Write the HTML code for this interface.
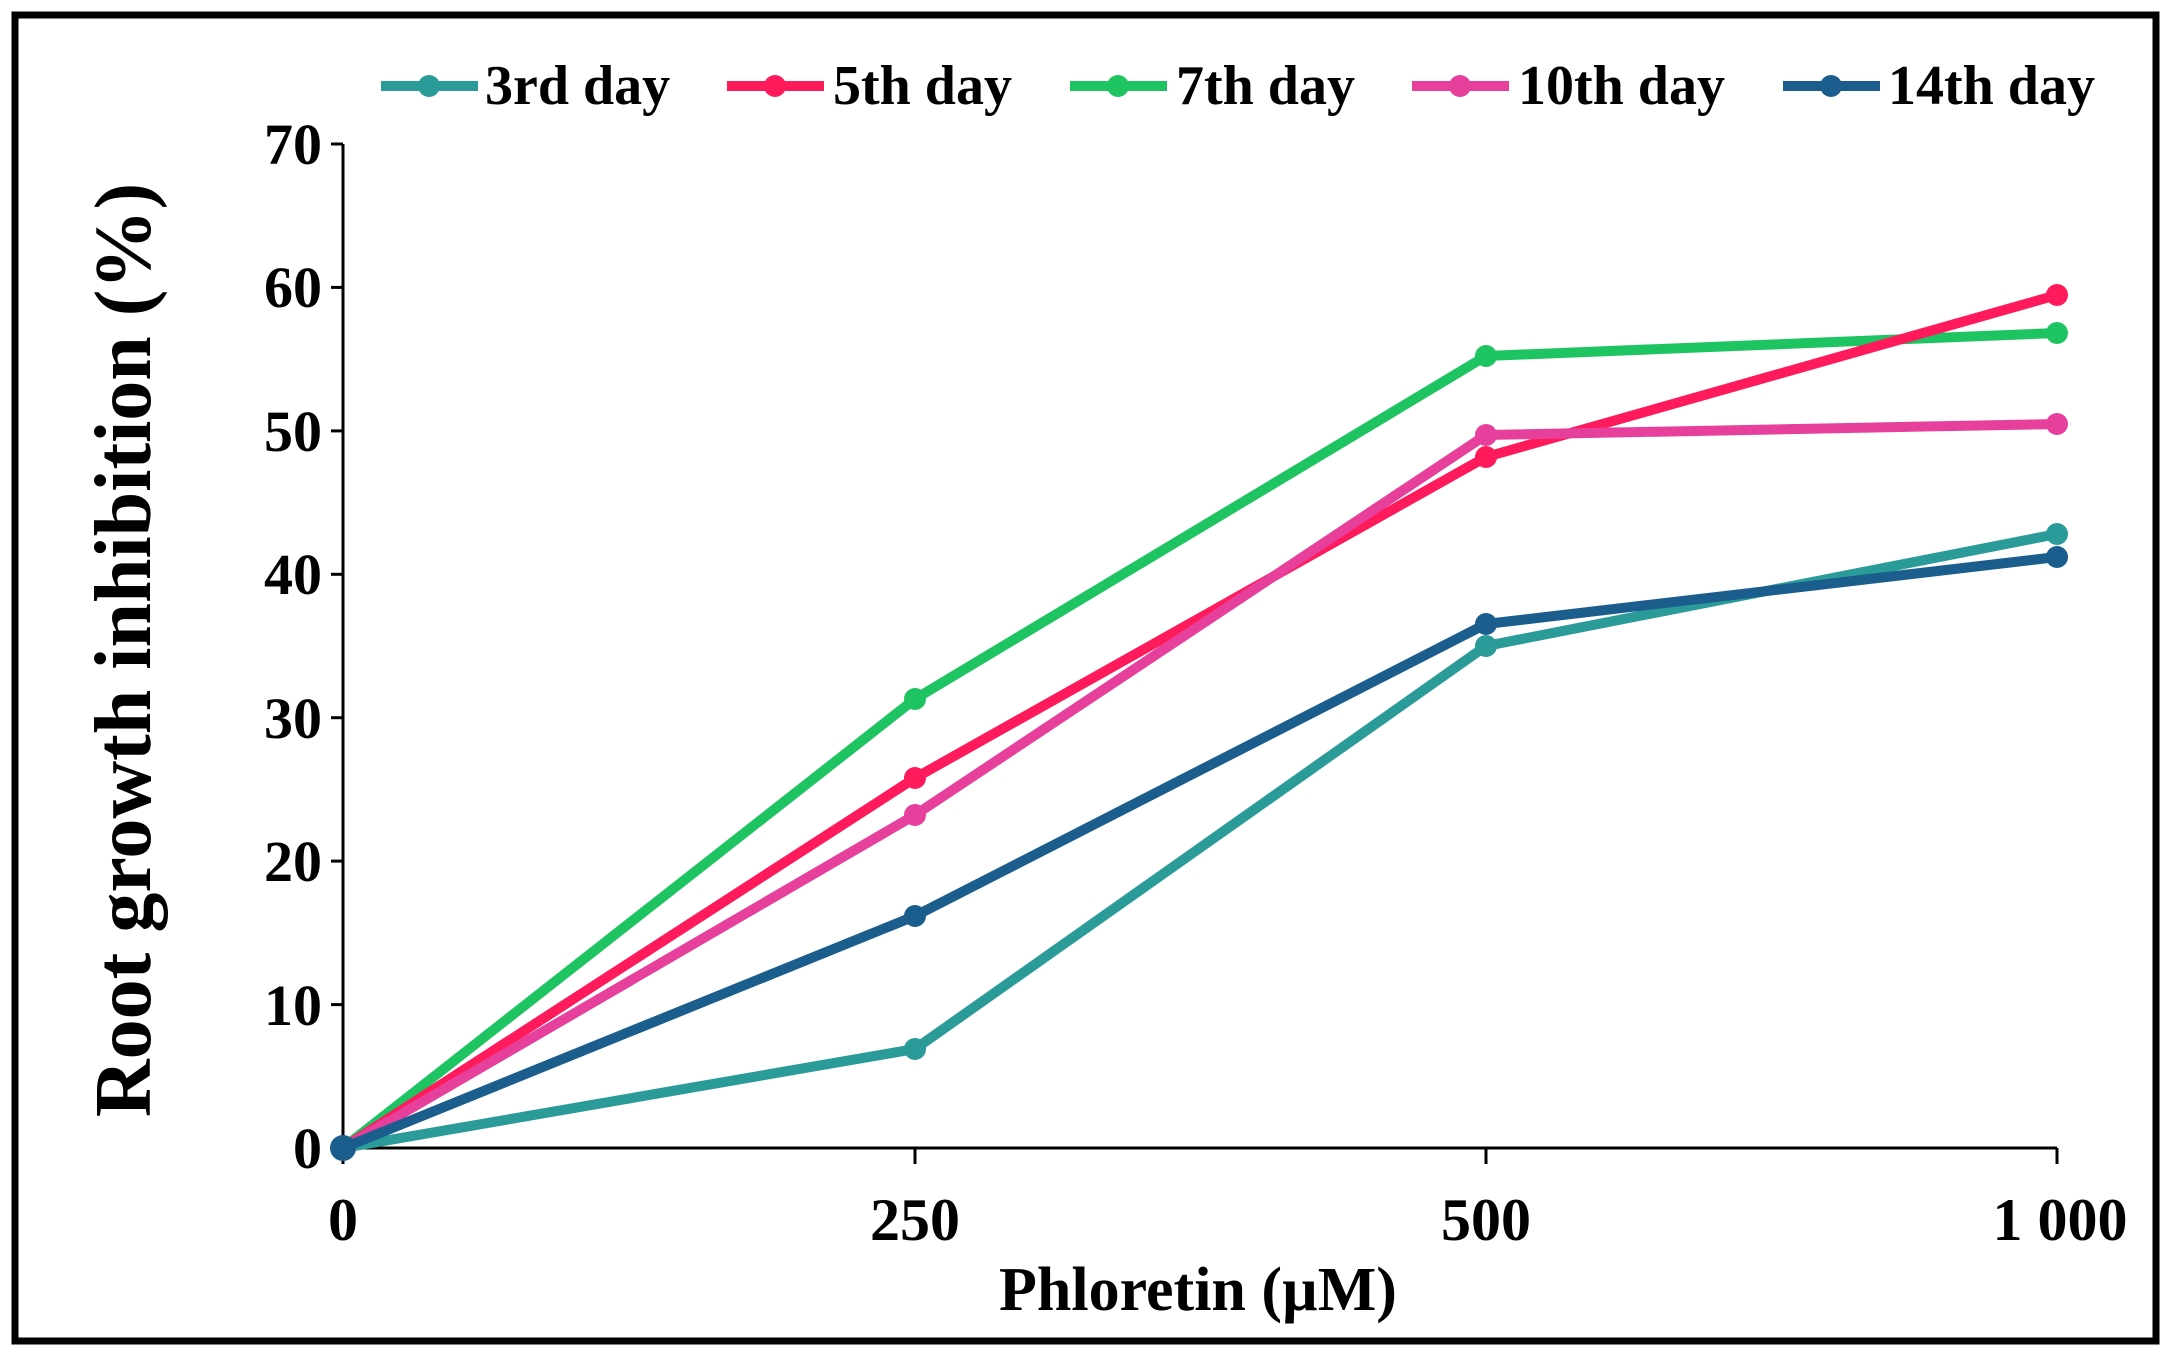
<!DOCTYPE html>
<html><head><meta charset="utf-8"><style>html,body{margin:0;padding:0;background:#fff}svg{display:block}</style></head>
<body>
<svg width="2171" height="1358" viewBox="0 0 2171 1358" xmlns="http://www.w3.org/2000/svg" font-family="'Liberation Serif', serif" font-weight="bold">
<rect x="15" y="15" width="2141" height="1326" fill="none" stroke="#000" stroke-width="7"/>
<line x1="343" y1="144" x2="343" y2="1148" stroke="#000" stroke-width="3"/>
<line x1="343" y1="1148" x2="2057" y2="1148" stroke="#000" stroke-width="3"/>
<g stroke="#000" stroke-width="3">
<line x1="331" y1="144" x2="343" y2="144"/><line x1="331" y1="287.4" x2="343" y2="287.4"/><line x1="331" y1="430.9" x2="343" y2="430.9"/><line x1="331" y1="574.3" x2="343" y2="574.3"/><line x1="331" y1="717.7" x2="343" y2="717.7"/><line x1="331" y1="861.1" x2="343" y2="861.1"/><line x1="331" y1="1004.6" x2="343" y2="1004.6"/><line x1="331" y1="1148" x2="343" y2="1148"/>
<line x1="343" y1="1148" x2="343" y2="1164"/><line x1="915" y1="1148" x2="915" y2="1164"/><line x1="1486" y1="1148" x2="1486" y2="1164"/><line x1="2057" y1="1148" x2="2057" y2="1164"/>
</g>
<g font-size="58" text-anchor="end">
<text x="322" y="164">70</text><text x="322" y="307">60</text><text x="322" y="451">50</text><text x="322" y="594">40</text><text x="322" y="738">30</text><text x="322" y="881">20</text><text x="322" y="1025">10</text><text x="322" y="1168">0</text>
</g>
<g font-size="60" text-anchor="middle">
<text x="343" y="1240">0</text><text x="915" y="1240">250</text><text x="1486" y="1240">500</text><text x="2060" y="1240">1 000</text>
</g>
<text x="1198" y="1310" font-size="62" text-anchor="middle">Phloretin (µM)</text>
<text transform="translate(150,650) rotate(-90)" font-size="80" text-anchor="middle">Root growth inhibition (%)</text>
<g fill="none" stroke-width="10" stroke-linejoin="round">
<polyline stroke="#1fc462" points="343,1148 915,699 1486,356 2057,333"/>
<polyline stroke="#ff1a5c" points="343,1148 915,778 1486,457 2057,295"/>
<polyline stroke="#e6409c" points="343,1148 915,815 1486,435 2057,424"/>
<polyline stroke="#2a9b98" points="343,1148 915,1049 1486,646 2057,534"/>
<polyline stroke="#1b5e8e" points="343,1148 915,916 1486,624 2057,557"/>
</g>
<g fill="#1fc462"><circle cx="915" cy="699" r="11"/><circle cx="1486" cy="356" r="11"/><circle cx="2057" cy="333" r="11"/></g>
<g fill="#ff1a5c"><circle cx="915" cy="778" r="11"/><circle cx="1486" cy="457" r="11"/><circle cx="2057" cy="295" r="11"/></g>
<g fill="#e6409c"><circle cx="915" cy="815" r="11"/><circle cx="1486" cy="435" r="11"/><circle cx="2057" cy="424" r="11"/></g>
<g fill="#2a9b98"><circle cx="915" cy="1049" r="11"/><circle cx="1486" cy="646" r="11"/><circle cx="2057" cy="534" r="11"/></g>
<g fill="#1b5e8e"><circle cx="343" cy="1148" r="13"/><circle cx="915" cy="916" r="11"/><circle cx="1486" cy="624" r="11"/><circle cx="2057" cy="557" r="11"/></g>
<g stroke-width="10">
<line x1="381" y1="86" x2="478" y2="86" stroke="#2a9b98"/><line x1="727" y1="86" x2="824" y2="86" stroke="#ff1a5c"/><line x1="1070" y1="86" x2="1167" y2="86" stroke="#1fc462"/><line x1="1412" y1="86" x2="1509" y2="86" stroke="#e6409c"/><line x1="1783" y1="86" x2="1880" y2="86" stroke="#1b5e8e"/>
</g>
<circle cx="429" cy="86" r="11" fill="#2a9b98"/><circle cx="775" cy="86" r="11" fill="#ff1a5c"/><circle cx="1118" cy="86" r="11" fill="#1fc462"/><circle cx="1460" cy="86" r="11" fill="#e6409c"/><circle cx="1831" cy="86" r="11" fill="#1b5e8e"/>
<g font-size="56">
<text x="485" y="104">3rd day</text><text x="833" y="104">5th day</text><text x="1176" y="104">7th day</text><text x="1518" y="104">10th day</text><text x="1888" y="104">14th day</text>
</g>
</svg>
</body></html>
